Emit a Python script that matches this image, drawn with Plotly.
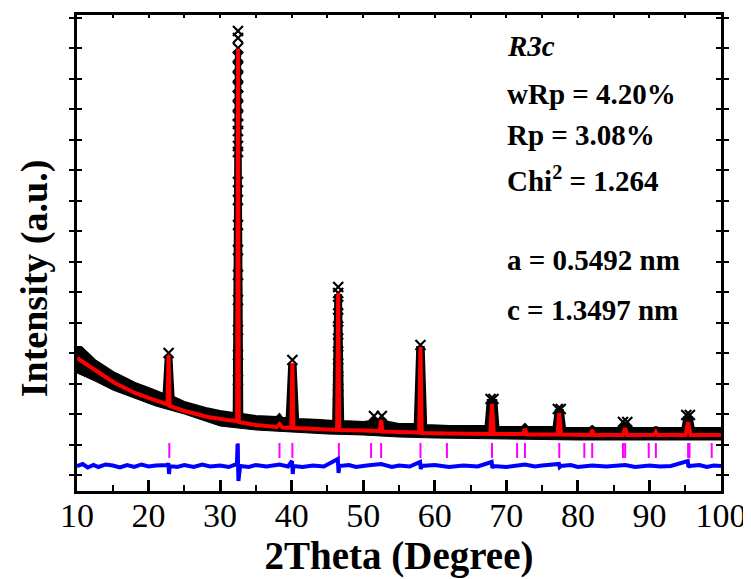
import plotly.graph_objects as go

# ---------------- data ----------------
# calculated profile (red)
tt_calc = [10.0, 11.0, 12.5, 14.0, 15.3, 17.0, 18.1, 20.0, 21.5, 22.65, 22.8, 22.95,
           25.0, 28.3, 31.0, 32.38, 32.5, 32.62, 35.0, 37.9, 38.3, 38.7, 39.95, 40.1, 40.25,
           44.0, 46.35, 46.5, 46.65, 50.0, 52.3, 52.5, 52.7, 55.0, 57.82, 58.0, 58.18,
           62.0, 67.75, 68.0, 68.25, 72.35, 72.6, 72.85, 77.15, 77.4, 77.65, 81.75, 82.0, 82.25,
           86.3, 86.6, 86.9, 90.65, 90.9, 91.15, 95.05, 95.4, 95.75, 100.0]
i_calc = [3838, 3674, 3444, 3214, 3018, 2821, 2690, 2526, 2394, 2312, 3936, 2263,
          2099, 1902, 1804, 1771, 13973, 1738, 1640, 1574, 1673, 1558, 1542, 3674, 1542,
          1509, 1476, 5970, 1476, 1460, 1443, 1804, 1427, 1410, 1394, 4198, 1378,
          1361, 1345, 2329, 1345, 1345, 1509, 1328, 1328, 2034, 1328, 1312, 1476, 1312,
          1312, 1542, 1312, 1312, 1410, 1312, 1312, 1738, 1312, 1312]

# observed data: upper and lower edge of the dense black band
tt_obs_upper = [10.0, 10.6, 12.5, 14.0, 15.3, 17.0, 18.1, 20.0, 21.5, 22.1, 22.4, 23.2, 23.5,
                25.0, 28.0, 30.0, 31.9, 32.2, 32.8, 33.1, 35.0, 37.9, 38.3, 38.7, 39.3,
                39.65, 40.55, 40.9, 44.0, 45.8, 46.1, 46.9, 47.2, 50.0, 51.1, 51.5, 51.9, 52.1,
                52.5, 52.9, 55.0, 57.2, 57.55, 58.45, 58.8, 62.0, 67.1, 67.4, 68.6, 68.9, 72.2,
                72.6, 73.0, 76.6, 76.9, 77.9, 78.2, 81.6, 82.0, 82.4, 85.9, 86.2, 87.0, 87.3,
                90.5, 90.9, 91.3, 94.6, 94.9, 95.9, 96.2, 100.0]
i_obs_upper = [4198, 4198, 3772, 3542, 3346, 3149, 3018, 2854, 2722, 2657, 3903, 3903, 2558,
               2394, 2198, 2099, 2034, 13900, 13900, 2001, 1935, 1902, 2001, 1870, 1870,
               3608, 3608, 1837, 1804, 1771, 5900, 5900, 1771, 1738, 1771, 1902, 1771, 1771,
               1935, 1771, 1673, 1673, 4198, 4198, 1640, 1607, 1607, 2460, 2460, 1574, 1574,
               1673, 1574, 1574, 2132, 2132, 1542, 1542, 1607, 1542, 1542, 1706, 1706, 1542,
               1542, 1574, 1542, 1542, 1902, 1902, 1542, 1542]
tt_obs_lower = [10, 12.5, 15, 18, 21, 25, 30, 35, 40, 45, 50, 55, 60, 70, 80, 90, 100]
i_obs_lower = [3346, 3083, 2788, 2526, 2263, 2001, 1607, 1476, 1410, 1345, 1312, 1246,
               1214, 1181, 1148, 1148, 1148]

# observed points drawn as crosses (peak tops and the steep flanks)
tt_obs_pts = [22.8,
              32.5, 32.5, 32.5, 32.5, 32.5, 32.5, 32.5, 32.5, 32.5, 32.5, 32.5, 32.5,
              32.5, 32.5, 32.5, 32.5, 32.5, 32.5, 32.5, 32.5, 32.5, 32.5, 32.5,
              40.1,
              46.5, 46.5, 46.5, 46.5, 46.5, 46.5, 46.5, 46.5, 46.5, 46.5,
              51.5, 52.6, 58.0, 67.8, 68.2, 77.2, 77.6, 86.3, 86.9, 95.15, 95.65]
i_obs_pts = [4002,
             14563, 14334, 14006, 13710, 13382, 13054, 12726, 12431, 12103, 11775, 11513, 11283,
             10791, 10594, 9610, 9020, 8200, 7380, 6560, 5740, 4756, 3936, 3116,
             3772,
             6166, 5970, 5576, 5150, 4756, 4330, 3936, 3510, 3116, 2624,
             1935, 1935, 4264, 2493, 2493, 2165, 2165, 1738, 1738, 1968, 1968]

# difference curve (blue)
tt_diff = [10, 10.8, 11.5, 12.3, 13, 14, 15, 16, 17, 18, 19, 20, 21, 22.7, 22.78, 22.86, 22.95,
           24, 25, 26.3, 27.5, 28.6, 30, 31.2, 32.35, 32.44, 32.56, 32.68, 32.8, 34, 35,
           36.5, 38.3, 39.5, 40.05, 40.15, 40.25, 41.5, 43, 44.5, 46.45, 46.55, 46.65, 48,
           49, 50.5, 52.5, 54, 55, 56.5, 57.95, 58.05, 58.15, 60, 62, 64, 66, 67.95, 68.05,
           68.2, 70, 72.6, 74, 75, 77.35, 77.45, 77.6, 79, 80, 82, 84, 86.6, 88, 90, 91.5,
           93, 95.35, 95.45, 95.6, 97, 98, 99, 100]
i_diff = [295, 361, 246, 328, 262, 345, 312, 246, 328, 262, 345, 279, 312, 328, 394, 33, 295,
          262, 328, 262, 345, 279, 312, 262, 361, 1017, -197, 164, 295, 262, 328,
          279, 345, 279, 459, 33, 295, 262, 312, 279, 525, 66, 295, 328,
          262, 312, 361, 262, 312, 279, 426, 197, 295, 328, 262, 312, 279, 426, 230,
          295, 262, 345, 279, 312, 361, 262, 295, 328, 262, 312, 279, 328, 262, 312, 279,
          295, 459, 262, 295, 328, 262, 312, 295]

# Bragg reflection positions (magenta ticks)
bragg_pos = [22.9, 32.4, 32.6, 38.3, 40.1, 46.6, 51.1, 52.5, 58.0, 61.7, 68.0, 71.5, 72.6,
             77.4, 80.9, 82.0, 86.3, 86.6, 89.9, 90.9, 95.4, 95.6, 98.7]
bragg_low, bragg_high = 558, 1050

x_ticks = [10, 20, 30, 40, 50, 60, 70, 80, 90, 100]

info_lines = ["<i>R3c</i>", "wRp = 4.20%", "Rp = 3.08%", "Chi<sup>2</sup> = 1.264",
              "a = 0.5492 nm", "c = 1.3497 nm"]
info_y = [0.935, 0.834, 0.748, 0.656, 0.485, 0.380]

# ---------------- figure ----------------
fig = go.Figure()

# observed band
fig.add_trace(go.Scatter(x=tt_obs_lower, y=i_obs_lower, mode="lines",
                         line=dict(color="black", width=1), showlegend=False,
                         hoverinfo="skip"))
fig.add_trace(go.Scatter(x=tt_obs_upper, y=i_obs_upper, mode="lines",
                         line=dict(color="black", width=2), fill="tonexty",
                         fillcolor="black", showlegend=False, name="Obs"))
fig.add_trace(go.Scatter(x=tt_obs_pts, y=i_obs_pts, mode="markers",
                         marker=dict(symbol="x-thin", size=10,
                                     line=dict(color="black", width=2.2)),
                         showlegend=False, name="Obs"))

# calculated
fig.add_trace(go.Scatter(x=tt_calc, y=i_calc, mode="lines",
                         line=dict(color="#ff0000", width=4), showlegend=False,
                         name="Calc"))

# Bragg positions
bx, by = [], []
for p in bragg_pos:
    bx += [p, p, None]
    by += [bragg_low, bragg_high, None]
fig.add_trace(go.Scatter(x=bx, y=by, mode="lines",
                         line=dict(color="#ff00ff", width=2), showlegend=False,
                         name="Bragg"))

# difference (on the overlaying top axis, which has the same range and carries the top ticks)
fig.add_trace(go.Scatter(x=tt_diff, y=i_diff, mode="lines", xaxis="x2",
                         line=dict(color="#0000ff", width=4), showlegend=False,
                         name="Diff"))

for txt, yy in zip(info_lines, info_y):
    fig.add_annotation(x=0.665, y=yy, xref="paper", yref="paper", text="<b>" + txt + "</b>",
                       showarrow=False, xanchor="left", yanchor="middle",
                       font=dict(family="Liberation Serif", size=29, color="black"))

# y-axis title (placed as an annotation so it can sit below the axis centre, as in the reference)
fig.add_annotation(x=-0.0668, y=0.447, xref="paper", yref="paper",
                   text="<b>Intensity (a.u.)</b>", textangle=-90, showarrow=False,
                   xanchor="center", yanchor="middle",
                   font=dict(family="Liberation Serif", size=38, color="black"))

# The page body adds an 8 px offset, so the margins are shifted by 8 px to compensate.
fig.update_layout(
    template="none",
    width=751, height=579,
    margin=dict(l=69, r=38, t=7, b=96, autoexpand=False),
    paper_bgcolor="white", plot_bgcolor="white",
    showlegend=False,
    xaxis=dict(
        range=[10, 100], tickvals=x_ticks, ticks="inside", ticklen=11, tickwidth=2.5,
        tickcolor="black", automargin=False, ticklabelstandoff=-8,
        minor=dict(dtick=5, tick0=5, ticks="inside", ticklen=6, tickwidth=2,
                   tickcolor="black"),
        showline=True, linewidth=2.5, linecolor="black", mirror=True,
        showgrid=False, zeroline=False,
        tickfont=dict(family="Liberation Serif", size=34, color="black"),
        title=dict(text="<b>2Theta (Degree)</b>", standoff=4,
                   font=dict(family="Liberation Serif", size=39, color="black")),
    ),
    xaxis2=dict(
        overlaying="x", side="top", anchor="y", range=[10, 100], tick0=10, dtick=5,
        ticks="inside", ticklen=3, tickwidth=1.5, tickcolor="black",
        showticklabels=False, showgrid=False, zeroline=False, showline=False,
        automargin=False,
    ),
    yaxis=dict(
        range=[-525, 15088], dtick=1000, tick0=0, ticks="inside", ticklen=5, tickwidth=2,
        tickcolor="black", showticklabels=False, automargin=False,
        showline=True, linewidth=2.5, linecolor="black", mirror="allticks",
        showgrid=False, zeroline=False,
    ),
)

fig.write_html("out.html")
